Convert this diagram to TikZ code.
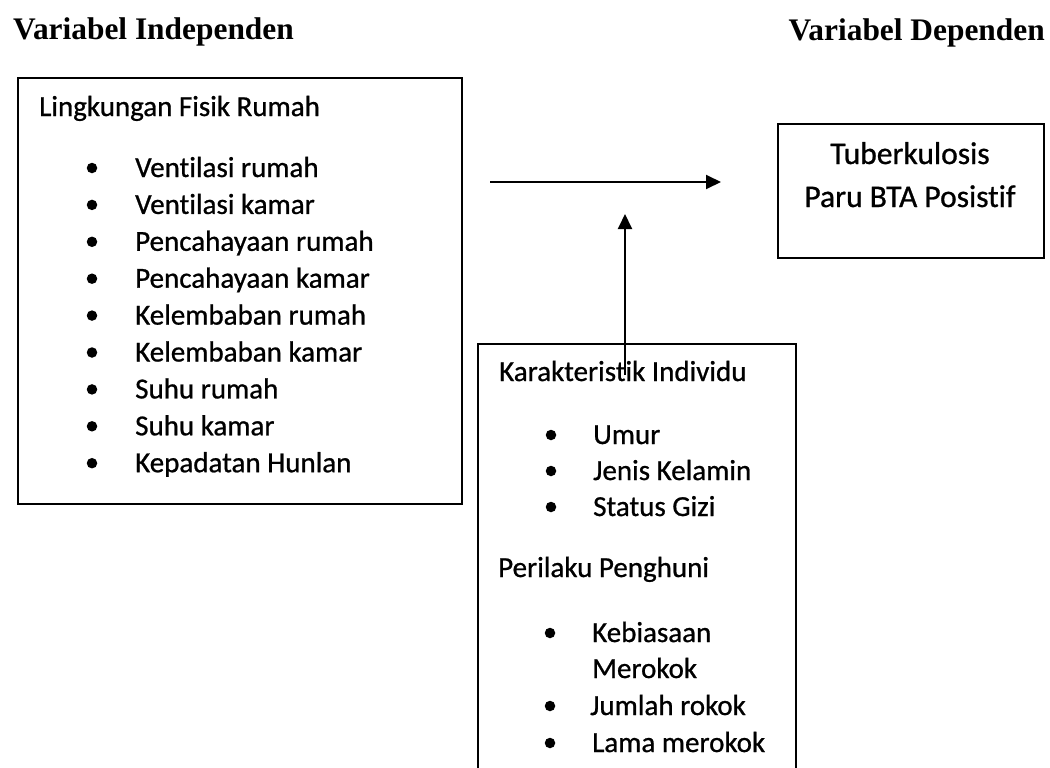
\documentclass[tikz,border=0pt]{standalone}
\usepackage{fontspec}
\setmainfont{Carlito}[Ligatures=NoCommon,RawFeature=-liga,FakeBold=0.8]
\newfontfamily\titlefont{Liberation Serif}
\usetikzlibrary{arrows.meta}
\begin{document}
\begin{tikzpicture}[x=1pt,y=-1pt,
  boxline/.style={draw=black, line width=1.9pt, rectangle, inner sep=0pt, anchor=north west},
  txt/.style={anchor=base west, inner sep=0pt, font=\fontsize{29}{35}\selectfont},
  ctxt/.style={anchor=base, inner sep=0pt, font=\fontsize{31.5}{38}\selectfont},
  ttl/.style={anchor=base west, inner sep=0pt, font=\titlefont\bfseries\fontsize{31.4}{36}\selectfont},
  bul/.style={circle, fill=black, inner sep=0pt, minimum size=10.5pt},
  arr/.style={line width=1.9pt, -{Triangle[length=15pt,width=14pt]}}
]
\useasboundingbox (0,0) rectangle (1050,768);
\fill[white] (0,0) rectangle (1050,768);

% titles
\node[ttl] (tind) at (13,40) {Variabel Independen};
\node[ttl, anchor=base east] (tdep) at (1045,41) {Variabel Dependen};

% boxes
\node[boxline, minimum width=444pt, minimum height=426pt] (lbox) at (17,77) {};
\node[boxline, minimum width=266pt, minimum height=134pt] (dbox) at (777,123) {};
\node[boxline, minimum width=318pt, minimum height=445pt] (kbox) at (477,343) {};

% left box contents
\node[txt] (lh) at (39,116) {Lingkungan Fisik Rumah};
\foreach \t [count=\i from 0] in {Ventilasi rumah,Ventilasi kamar,Pencahayaan rumah,Pencahayaan kamar,Kelembaban rumah,Kelembaban kamar,Suhu rumah,Suhu kamar,Kepadatan Hunlan}{
  \node[bul] (lb\i) at (92,{168+36.9*\i}) {};
  \node[txt] (li\i) at (135,{177+36.9*\i}) {\t};
}

% dependent box contents
\node[ctxt] (d1) at (910,164) {Tuberkulosis};
\node[ctxt] (d2) at (910,207) {Paru BTA Posistif};

% bottom box contents
\node[txt] (kh) at (499,381) {Karakteristik Individu};
\node[bul] (kb0) at (551,435) {};
\node[txt] (ki0) at (593,444) {Umur};
\node[bul] (kb1) at (551,471) {};
\node[txt] (ki1) at (593,480) {Jenis Kelamin};
\node[bul] (kb2) at (551,507) {};
\node[txt] (ki2) at (593,516) {Status Gizi};
\node[txt] (ph) at (498,577) {Perilaku Penghuni};
\node[bul] (pb0) at (550,633) {};
\node[txt] (pi0) at (592,642) {Kebiasaan};
\node[txt] (pi0b) at (592,678) {Merokok};
\node[bul] (pb1) at (550,706) {};
\node[txt] (pi1) at (590,715) {Jumlah rokok};
\node[bul] (pb2) at (550,743) {};
\node[txt] (pi2) at (592,752) {Lama merokok};

% connectors
\coordinate (hs) at (490,182);
\coordinate (he) at (721,182);
\draw[arr] (hs) -- (he);
\coordinate (vs) at (625,375);
\coordinate (ve) at (625,214);
\draw[arr] (vs) -- (ve);
\end{tikzpicture}
\end{document}
